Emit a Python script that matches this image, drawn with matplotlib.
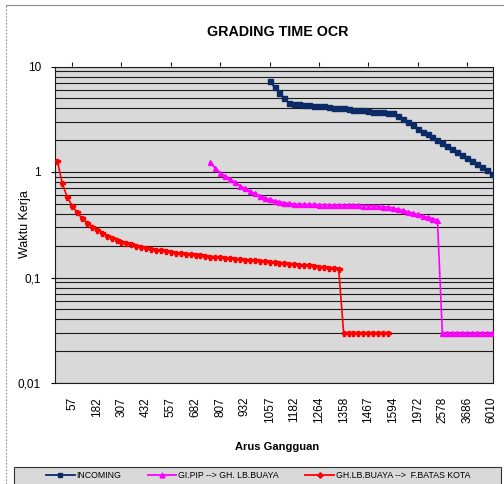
import numpy as np
import matplotlib
matplotlib.use('Agg')
import matplotlib.pyplot as plt
from matplotlib.lines import Line2D
from matplotlib.patches import Rectangle
from matplotlib.ticker import FixedLocator, LogLocator, NullFormatter

plt.rcParams['font.family'] = ['Liberation Sans', 'DejaVu Sans']

nan = np.nan
n_cat = 89

# category labels (only every 5th category is labelled)
x_labels = ['57', '182', '307', '432', '557', '682', '807', '932', '1057',
            '1182', '1264', '1358', '1467', '1594', '1972', '2578', '3686', '6010']
label_first, label_step = 3, 5

incoming = [nan] * 43 + [
    7.30, 6.34, 5.57, 4.99, 4.48,
    4.42, 4.38, 4.35, 4.30, 4.25, 4.22, 4.18, 4.14, 4.08, 4.04, 4.00,
    3.95, 3.90, 3.86, 3.83, 3.78, 3.74, 3.71, 3.67, 3.63, 3.60,
    3.37, 3.15, 2.95, 2.76, 2.58, 2.42, 2.27, 2.13, 2.00, 1.88,
    1.76, 1.65, 1.55, 1.46, 1.37, 1.28, 1.20, 1.12, 1.04, 0.96]

gi_pip = [nan] * 31 + [
    1.235, 1.083, 0.985, 0.917, 0.858, 0.798, 0.742, 0.700, 0.661, 0.628,
    0.597, 0.571, 0.551, 0.535, 0.523, 0.512, 0.503,
    0.497, 0.495, 0.494, 0.493, 0.492, 0.491, 0.490, 0.489, 0.488, 0.487,
    0.486, 0.485, 0.484, 0.483, 0.481, 0.479, 0.477, 0.474, 0.470, 0.465,
    0.455, 0.445, 0.432, 0.420, 0.408, 0.396, 0.384, 0.372, 0.362, 0.351] + [0.03] * 11

gh_lb = [
    1.28, 0.78, 0.58, 0.48, 0.415, 0.365, 0.33, 0.303, 0.282, 0.265,
    0.25, 0.238, 0.228, 0.219, 0.212, 0.206, 0.2, 0.196, 0.192, 0.188,
    0.184, 0.181, 0.178, 0.175, 0.172, 0.17, 0.168, 0.166, 0.164, 0.162,
    0.16, 0.158, 0.157, 0.155, 0.154, 0.152, 0.151, 0.15, 0.148, 0.147,
    0.145, 0.144, 0.142, 0.141, 0.139, 0.138, 0.136, 0.135, 0.133, 0.132,
    0.131, 0.13, 0.128, 0.127, 0.126, 0.124, 0.122, 0.12] + [0.03] * 10 + [nan] * 21

names = ['INCOMING', 'GI.PIP --> GH. LB.BUAYA', 'GH.LB.BUAYA -->  F.BATAS KOTA']
colors = ['#0b2a66', '#ff00ff', '#ff0000']
markers = ['s', '^', 'P']
msizes = [3.6, 3.6, 3.6]

W, H = 504, 484
fig = plt.figure(figsize=(W / 100, H / 100), dpi=100)
ax = fig.add_axes([55 / W, 1 - 383 / H, 437.7 / W, 316.5 / H])
ax.set_facecolor('#d9d9d9')

x = np.arange(n_cat)
for ys, c, m, s in zip([incoming, gi_pip, gh_lb], colors, markers, msizes):
    ax.plot(x, ys, color=c, marker=m, ms=s, lw=1.2, mec=c, zorder=3)

ax.set_yscale('log')
ax.set_ylim(0.01, 10)
ax.set_xlim(-0.47, 88.2)

ax.yaxis.set_major_locator(FixedLocator([0.01, 0.1, 1, 10]))
ax.set_yticklabels(['0,01', '0,1', '1', '10'])
ax.yaxis.set_minor_locator(LogLocator(base=10, subs=np.arange(2, 10)))
ax.yaxis.set_minor_formatter(NullFormatter())

ax.set_xticks(np.arange(len(x_labels)) * label_step + label_first)
ax.set_xticklabels(x_labels, rotation=90)
ax.xaxis.set_minor_locator(FixedLocator(np.arange(8, 88, 10)))

ax.grid(axis='y', which='both', color='#1a1a1a', lw=0.8)
ax.grid(axis='x', which='minor', color='#1a1a1a', lw=0.8)
ax.set_axisbelow(True)

ax.tick_params(axis='x', which='both', length=0, pad=10, labelsize=8.5)
ax.tick_params(axis='y', which='major', length=3, width=0.8, pad=7, labelsize=8.5)
ax.tick_params(axis='y', which='minor', length=0)
for sp in ax.spines.values():
    sp.set_color('#1a1a1a')
    sp.set_linewidth(0.8)

top = ax.secondary_xaxis('top')
top.set_xticks(np.arange(3, 88, 10))
top.set_xticklabels([])
top.tick_params(length=3, width=0.8, color='#1a1a1a')
top.spines['top'].set_visible(False)

fig.text(277.5 / W, 1 - 32 / H, 'GRADING TIME OCR', fontsize=10.3, fontweight='bold',
         ha='center', va='center')
fig.text(25 / W, 1 - 224 / H, 'Waktu Kerja', fontsize=9, rotation=90,
         ha='center', va='center')
fig.text(277 / W, 1 - 447 / H, 'Arus Gangguan', fontsize=8, fontweight='bold',
         ha='center', va='center')

# chart border
fig.add_artist(Line2D([6 / W, 1], [1 - 5 / H, 1 - 5 / H], color='#8c8c8c', lw=0.8))
fig.add_artist(Line2D([6 / W, 6 / W], [0, 1 - 5 / H], color='#8c8c8c', lw=0.8, ls=(0, (1.5, 1.5))))

# legend box
fig.add_artist(Rectangle((14 / W, -6 / H), 487 / W, 23 / H, transform=fig.transFigure,
                         facecolor='#d9d9d9', edgecolor='#333333', lw=0.8))
handles = [Line2D([], [], color=c, marker=m, ms=3.5, lw=1.3, mec=c)
           for c, m in zip(colors, markers)]
fig.legend(handles, names, loc='center', bbox_to_anchor=(258 / W, 1 - 475.7 / H),
           ncol=3, frameon=False, fontsize=6.3, handlelength=3.3, handletextpad=0.2,
           columnspacing=3.0, borderaxespad=0, borderpad=0)

fig.savefig('out.png', dpi=100)
